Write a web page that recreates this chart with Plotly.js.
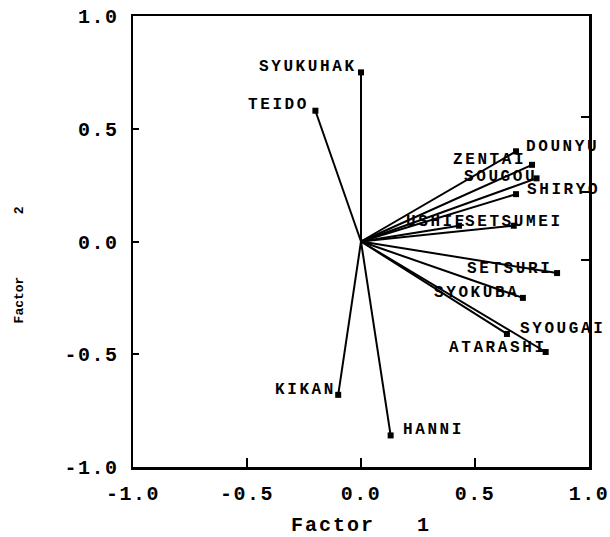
<!DOCTYPE html>
<html>
<head>
<meta charset="utf-8">
<script src="https://cdn.plot.ly/plotly-3.0.1.min.js"></script>
<style>
  html, body { margin: 0; padding: 0; background: #fff; }
  #chart { width: 610px; height: 537px; }
  .annotation-text { letter-spacing: 2.6px; }
  .xtick text, .ytick text { letter-spacing: 1.5px; }
  .g-xtitle text { letter-spacing: 2px; }
</style>
</head>
<body>
<div id="chart"></div>
<script>
// ---- data ----
const variables = ["SYUKUHAK", "TEIDO", "DOUNYU", "ZENTAI", "SOUGOU", "SHIRYO", "USHIE", "SETSUMEI",
                   "SETSURI", "SYOKUBA", "SYOUGAI", "ATARASHI", "KIKAN", "HANNI"];
const factor1 = [0.00, -0.20, 0.68, 0.75, 0.77, 0.68, 0.43, 0.67, 0.86, 0.71, 0.64, 0.81, -0.10, 0.13];
const factor2 = [0.75, 0.58, 0.40, 0.34, 0.28, 0.21, 0.07, 0.07, -0.14, -0.25, -0.41, -0.49, -0.68, -0.86];
const tickValues = [-1, -0.5, 0, 0.5, 1];
const tickLabels = ["-1.0", "-0.5", "0.0", "0.5", "1.0"];
const rightTickValues = [0.55, 0.22, -0.08];

// ---- label placement (style): anchor side, pixel shifts ----
const labelPlacement = [
  ["right", -3, 5], ["right", -5, 6], ["left", 9, 4], ["right", -5, 5], ["right", 1, 1],
  ["left", 10, 4], ["right", 9, 4], ["left", -50, 4], ["right", -4, 4.5], ["right", -3, 5],
  ["left", 12, 4.5], ["right", 2, 4], ["right", -1, 5], ["left", 11, 5]
];

const FONT = "Liberation Mono, Courier New, monospace";
const NB = "\u00a0";

// rays from origin
const lx = [], ly = [];
for (let i = 0; i < variables.length; i++) {
  lx.push(0, factor1[i], null);
  ly.push(0, factor2[i], null);
}

const traces = [
  { x: lx, y: ly, mode: "lines", line: { color: "#000", width: 2 }, hoverinfo: "skip", showlegend: false },
  { x: factor1, y: factor2, mode: "markers", marker: { symbol: "square", size: 6, color: "#000" },
    text: variables, showlegend: false },
  { x: [0], y: [0], yaxis: "y2", mode: "markers", marker: { opacity: 0 }, hoverinfo: "skip", showlegend: false }
];

const annotations = variables.map((name, i) => ({
  x: factor1[i], y: factor2[i], xref: "x", yref: "y",
  text: "<b>" + name + "</b>", showarrow: false,
  xanchor: labelPlacement[i][0], yanchor: "middle",
  xshift: labelPlacement[i][1], yshift: labelPlacement[i][2],
  font: { family: FONT, size: 16, color: "#000" }, borderpad: 0
}));

const layout = {
  width: 610, height: 537,
  margin: { l: 133, r: 21, t: 16, b: 70 },
  paper_bgcolor: "#fff", plot_bgcolor: "#fff",
  xaxis: {
    range: [-1, 1], tickvals: tickValues, ticktext: tickLabels,
    ticks: "inside", ticklen: 9, tickwidth: 2, tickcolor: "#000",
    showline: true, mirror: true, linewidth: 2.5, linecolor: "#000",
    showgrid: false, zeroline: false, ticklabelstandoff: 6,
    tickfont: { family: FONT, size: 20, color: "#000", weight: "bold" },
    title: { text: "<b>Factor   1</b>", font: { family: FONT, size: 20, color: "#000" }, standoff: 16 }
  },
  yaxis: {
    range: [-1, 1], tickvals: tickValues, ticktext: tickLabels,
    ticks: "inside", ticklen: 6, tickwidth: 2, tickcolor: "#000",
    showline: true, mirror: true, linewidth: 2.5, linecolor: "#000",
    showgrid: false, zeroline: false, ticklabelstandoff: 8,
    tickfont: { family: FONT, size: 20, color: "#000", weight: "bold" },
    title: { text: "<b>Factor" + NB.repeat(8) + "2" + NB.repeat(6) + "</b>",
             font: { family: FONT, size: 13, color: "#000" }, standoff: 38 }
  },
  yaxis2: {
    overlaying: "y", side: "right", range: [-1, 1], tickvals: rightTickValues,
    ticks: "inside", ticklen: 8, tickwidth: 2, tickcolor: "#000",
    showticklabels: false, showgrid: false, zeroline: false, showline: false
  },
  annotations: annotations,
  showlegend: false
};

Plotly.newPlot("chart", traces, layout, { displayModeBar: false, staticPlot: true });
</script>
</body>
</html>
